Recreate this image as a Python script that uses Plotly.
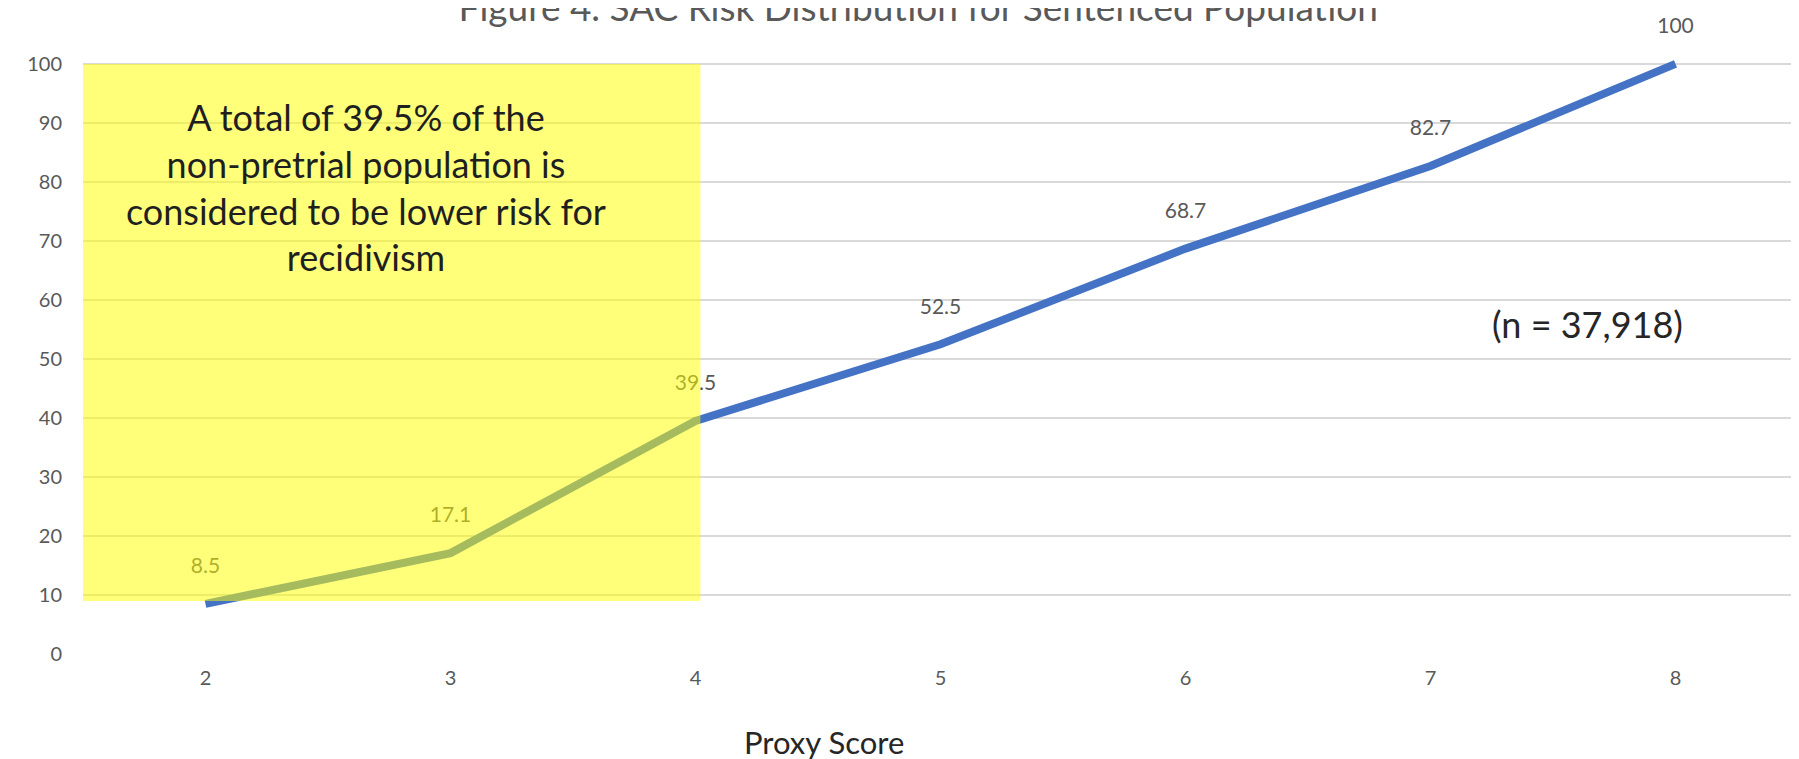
import plotly.graph_objects as go

# data
proxy_scores = [2, 3, 4, 5, 6, 7, 8]
cumulative_pct = [8.5, 17.1, 39.5, 52.5, 68.7, 82.7, 100]
y_ticks = [0, 10, 20, 30, 40, 50, 60, 70, 80, 90, 100]

title_text = "Figure 4. SAC Risk Distribution for Sentenced Population"
box_lines = [
    "A total of 39.5% of the",
    "non-pretrial population is",
    "considered to be lower risk for",
    "recidivism",
]
n_text = "(n = 37,918)"
x_title = "Proxy Score"

FONT = "Lato"
GRAY = "#595959"

fig = go.Figure()

# cumulative line with value labels above each point
fig.add_trace(go.Scatter(
    x=proxy_scores,
    y=cumulative_pct,
    mode="lines+markers+text",
    text=[f"{v:g}" for v in cumulative_pct],
    textposition="top center",
    textfont=dict(family=FONT, size=21, color=GRAY),
    line=dict(color="#4472C4", width=8),
    marker=dict(size=39, opacity=0),
    cliponaxis=False,
    showlegend=False,
    hoverinfo="x+y",
))

# highlighted lower-risk region (semi-transparent, drawn over the line)
fig.add_shape(
    type="rect", xref="x", yref="y",
    x0=1.5, x1=4.02, y0=9, y1=100,
    fillcolor="rgba(255,255,0,0.52)", line=dict(width=0),
    layer="above",
)

fig.add_annotation(
    xref="paper", yref="paper", x=0.165, y=0.783,
    text="<br>".join(box_lines), showarrow=False,
    font=dict(family=FONT, size=36, color="#1f1f1f"),
    align="center", xanchor="center", yanchor="middle",
)

fig.add_annotation(
    xref="paper", yref="paper", x=0.877, y=0.553,
    text=n_text, showarrow=False,
    font=dict(family=FONT, size=36, color="#262626"),
    xanchor="center", yanchor="middle",
)

fig.add_annotation(
    xref="paper", yref="paper", x=0.432, y=-0.147,
    text=x_title, showarrow=False,
    font=dict(family=FONT, size=31, color="#262626"),
    xanchor="center", yanchor="middle",
)

fig.update_layout(
    width=1799, height=759,
    margin=dict(l=75, r=9, t=50, b=113),
    paper_bgcolor="white", plot_bgcolor="white",
    title=dict(
        text=title_text, x=0.506, xref="container", xanchor="center",
        y=1.0, yref="container", yanchor="middle",
        font=dict(family=FONT, size=37, color=GRAY),
    ),
    xaxis=dict(
        range=[1.5, 8.5], tickvals=proxy_scores,
        showgrid=False, zeroline=False, showline=False,
        tickfont=dict(family=FONT, size=20, color=GRAY),
        ticklabelstandoff=10,
    ),
    yaxis=dict(
        range=[0, 101], tickvals=y_ticks,
        showgrid=True, gridcolor="#D9D9D9", gridwidth=2,
        zeroline=False, showline=False,
        tickfont=dict(family=FONT, size=20, color=GRAY),
        ticklabelstandoff=20,
    ),
)

fig.write_html("out.html")
